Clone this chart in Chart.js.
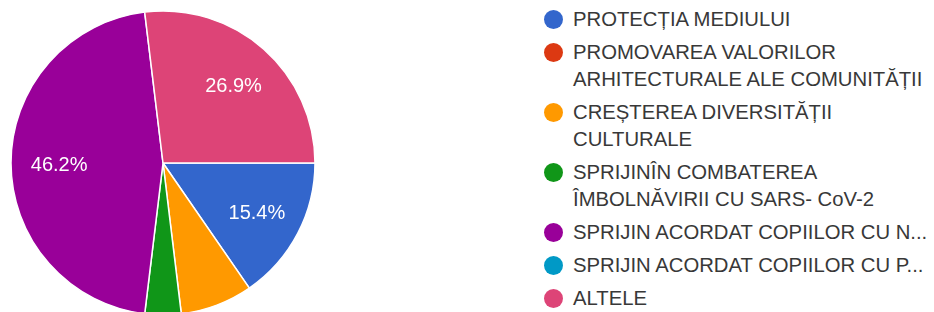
<!DOCTYPE html>
<html>
<head>
<meta charset="utf-8">
<script src="https://cdn.jsdelivr.net/npm/chart.js@4"></script>
<style>
  html, body { margin: 0; padding: 0; background: #fff; }
  body { width: 934px; height: 312px; overflow: hidden; position: relative; font-family: "Liberation Sans", Arial, sans-serif; }
  #pieBox { position: absolute; left: 0; top: 0; width: 326px; height: 326px; }
  #legend { position: absolute; left: 543px; top: 6px; margin: 0; padding: 0; list-style: none; }
  #legend li { position: relative; padding-left: 30px; margin-bottom: 6px; line-height: 27px; font-size: 20.3px; color: #383838; white-space: nowrap; }
  #legend li span.dot { position: absolute; left: 1px; top: 4px; width: 19px; height: 19px; border-radius: 50%; }
</style>
</head>
<body>
<div id="pieBox"><canvas id="pie" width="326" height="326"></canvas></div>
<ul id="legend"></ul>
<script>
document.addEventListener("DOMContentLoaded", function () {
    // categories (legend lines) and answer counts
    const categories = [
        ["PROTECȚIA MEDIULUI"],
        ["PROMOVAREA VALORILOR", "ARHITECTURALE ALE COMUNITĂȚII"],
        ["CREȘTEREA DIVERSITĂȚII", "CULTURALE"],
        ["SPRIJINÎN COMBATEREA", "ÎMBOLNĂVIRII CU SARS- CoV-2"],
        ["SPRIJIN ACORDAT COPIILOR CU N..."],
        ["SPRIJIN ACORDAT COPIILOR CU P..."],
        ["ALTELE"]
    ];
    const counts = [4, 0, 2, 1, 12, 0, 7];
    const colors = ["#3366cc", "#dc3912", "#ff9900", "#109618", "#990099", "#0099c6", "#dd4477"];

    const total = counts.reduce(function (a, b) { return a + b; }, 0);

    // percentage text inside the bigger slices
    const sliceLabels = {
        id: "sliceLabels",
        afterDatasetsDraw: function (chart) {
            const c = chart.ctx;
            const meta = chart.getDatasetMeta(0);
            c.save();
            c.fillStyle = "#ffffff";
            c.font = "20px 'Liberation Sans', Arial, sans-serif";
            c.textAlign = "center";
            c.textBaseline = "middle";
            meta.data.forEach(function (arc, i) {
                const pct = counts[i] / total * 100;
                if (pct < 10) return;
                const mid = (arc.startAngle + arc.endAngle) / 2;
                const r = arc.outerRadius * 0.69;
                c.fillText(pct.toFixed(1) + "%", arc.x + Math.cos(mid) * r + 1, arc.y + Math.sin(mid) * r + 2);
            });
            c.restore();
        }
    };

    new Chart(document.getElementById("pie"), {
        type: "pie",
        data: {
            labels: categories.map(function (l) { return l.join(" "); }),
            datasets: [{
                data: counts,
                backgroundColor: colors,
                borderColor: "#ffffff",
                borderWidth: 1.5,
                radius: 152
            }]
        },
        options: {
            responsive: false,
            animation: false,
            rotation: 90,
            layout: { padding: 0 },
            plugins: {
                legend: { display: false },
                tooltip: { enabled: false }
            }
        },
        plugins: [sliceLabels]
    });

    const legend = document.getElementById("legend");
    categories.forEach(function (lines, i) {
        const li = document.createElement("li");
        const dot = document.createElement("span");
        dot.className = "dot";
        dot.style.background = colors[i];
        li.appendChild(dot);
        lines.forEach(function (t, k) {
            if (k > 0) li.appendChild(document.createElement("br"));
            li.appendChild(document.createTextNode(t));
        });
        legend.appendChild(li);
    });
});
</script>
</body>
</html>
